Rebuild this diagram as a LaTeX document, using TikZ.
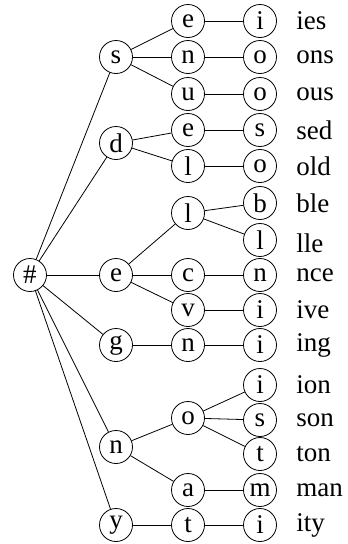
\documentclass[tikz,border=0pt]{standalone}
\usepackage{fontspec}
\setmainfont{Liberation Serif}
\begin{document}
\begin{tikzpicture}[x=1pt,y=-1pt,
  nd/.style={circle,draw,line width=0.8pt,minimum size=33pt,inner sep=0pt,font=\fontsize{27}{29}\selectfont},
  lab/.style={anchor=west,inner sep=0pt,font=\fontsize{27}{29}\selectfont},
  every path/.style={line width=0.8pt}]
\useasboundingbox (0,0) rectangle (348,544);
% root
\node[nd] (r) at (30,275) {\#};
% level 1
\node[nd] (s) at (116,57) {s};
\node[nd] (d) at (116,143) {d};
\node[nd] (e) at (116,275) {e};
\node[nd] (g) at (116,345) {g};
\node[nd] (n) at (116,447) {n};
\node[nd] (y) at (116,525) {y};
% level 2
\node[nd] (se) at (188,21) {e};
\node[nd] (sn) at (188,57) {n};
\node[nd] (su) at (188,94) {u};
\node[nd] (de) at (188,130) {e};
\node[nd] (dl) at (188,166) {l};
\node[nd] (el) at (188,213) {l};
\node[nd] (ec) at (188,275) {c};
\node[nd] (ev) at (188,310) {v};
\node[nd] (gn) at (188,345) {n};
\node[nd] (no) at (188,418) {o};
\node[nd] (na) at (188,490) {a};
\node[nd] (yt) at (188,525) {t};
% level 3
\node[nd] (sei) at (260,21) {i};
\node[nd] (sno) at (260,57) {o};
\node[nd] (suo) at (260,94) {o};
\node[nd] (des) at (260,130) {s};
\node[nd] (dlo) at (260,166) {o};
\node[nd] (elb) at (260,203) {b};
\node[nd] (ell) at (260,240) {l};
\node[nd] (ecn) at (260,275) {n};
\node[nd] (evi) at (260,310) {i};
\node[nd] (gni) at (260,345) {i};
\node[nd] (noi) at (260,385) {i};
\node[nd] (nos) at (260,420) {s};
\node[nd] (not) at (260,454) {t};
\node[nd] (nam) at (260,490) {m};
\node[nd] (yti) at (260,525) {i};
% labels
\node[lab] (l1) at (296,21) {ies};
\node[lab] (l2) at (296,57) {ons};
\node[lab] (l3) at (296,94) {ous};
\node[lab] (l4) at (296,130) {sed};
\node[lab] (l5) at (296,166) {old};
\node[lab] (l6) at (296,203) {ble};
\node[lab] (l7) at (296,243) {lle};
\node[lab] (l8) at (296,275) {nce};
\node[lab] (l9) at (296,310) {ive};
\node[lab] (l10) at (296,345) {ing};
\node[lab] (l11) at (296,385) {ion};
\node[lab] (l12) at (296,420) {son};
\node[lab] (l13) at (296,454) {ton};
\node[lab] (l14) at (296,490) {man};
\node[lab] (l15) at (296,525) {ity};
% edges
\foreach \a/\b in {r/s,r/d,r/e,r/g,r/n,r/y,
  s/se,s/sn,s/su,d/de,d/dl,e/el,e/ec,e/ev,g/gn,n/no,n/na,y/yt,
  se/sei,sn/sno,su/suo,de/des,dl/dlo,el/elb,el/ell,ec/ecn,ev/evi,gn/gni,
  no/noi,no/nos,no/not,na/nam,yt/yti}
  \draw (\a) -- (\b);
\end{tikzpicture}
\end{document}
